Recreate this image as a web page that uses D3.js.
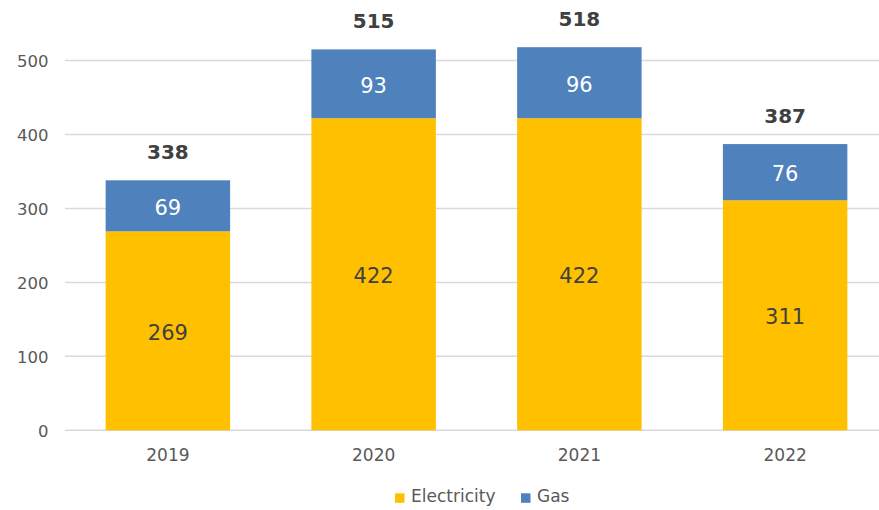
<!DOCTYPE html>
<html><head><meta charset="utf-8">
<script src="https://cdn.jsdelivr.net/npm/d3@7"></script>
<style>
body{margin:0;background:#fff;}
text{font-family:"DejaVu Sans",sans-serif;}
</style></head>
<body><svg id="c" width="879" height="510"></svg>
<script>
const categories = ["2019","2020","2021","2022"];
const electricity = [269,422,422,311];
const gas = [69,93,96,76];
const totals = [338,515,518,387];
const yTicks = [0,100,200,300,400,500];
const seriesNames = ["Electricity","Gas"];
const colors = ["#FFC000","#4F81BD"];
const FONT = "'DejaVu Sans',sans-serif";

const svg = d3.select("#c");
const y = d3.scaleLinear().domain([0,500]).range([430.3,60.5]);
const x = d3.scaleBand().domain(categories).range([65,888]).paddingInner(0.395).paddingOuter(0.1975);

// gridlines
svg.append("g").selectAll("line").data(yTicks).join("line")
  .attr("x1",65).attr("x2",879)
  .attr("y1",d=>y(d)).attr("y2",d=>y(d))
  .attr("stroke","#d9d9d9").attr("stroke-width",1.5);

// y axis labels
const yAxis = d3.axisLeft(y).tickValues(yTicks).tickSize(0).tickPadding(16.5);
const ga = svg.append("g").attr("transform","translate(65,0)").call(yAxis);
ga.select(".domain").remove();
ga.selectAll("text").attr("font-size",16.5).attr("fill","#595959").attr("dy","0.36em").style("font-family",FONT);

// x axis labels
const xAxis = d3.axisBottom(x).tickSize(0);
const gx = svg.append("g").attr("transform","translate(0,430.3)").call(xAxis);
gx.select(".domain").remove();
gx.selectAll("text").attr("font-size",17).attr("fill","#595959").attr("y",30.5).attr("dy",0).style("font-family",FONT);

const data = categories.map((c,i)=>({c, e:electricity[i], g:gas[i], t:totals[i]}));

svg.append("g").selectAll("rect").data(data).join("rect")
  .attr("x",d=>x(d.c)).attr("width",x.bandwidth())
  .attr("y",d=>y(d.e)).attr("height",d=>y(0)-y(d.e)).attr("fill",colors[0]);
svg.append("g").selectAll("rect").data(data).join("rect")
  .attr("x",d=>x(d.c)).attr("width",x.bandwidth())
  .attr("y",d=>y(d.e+d.g)).attr("height",d=>y(d.e)-y(d.e+d.g)).attr("fill",colors[1]);

svg.append("g").selectAll("text").data(data).join("text")
  .attr("x",d=>x(d.c)+x.bandwidth()/2).attr("y",d=>(y(0)+y(d.e))/2)
  .attr("dy","0.42em").attr("text-anchor","middle").attr("font-size",21).attr("fill","#404040")
  .text(d=>d.e);
svg.append("g").selectAll("text").data(data).join("text")
  .attr("x",d=>x(d.c)+x.bandwidth()/2).attr("y",d=>(y(d.e)+y(d.e+d.g))/2)
  .attr("dy","0.42em").attr("text-anchor","middle").attr("font-size",21).attr("fill","#ffffff")
  .text(d=>d.g);
svg.append("g").selectAll("text").data(data).join("text")
  .attr("x",d=>x(d.c)+x.bandwidth()/2).attr("y",d=>y(d.e+d.g)-21)
  .attr("text-anchor","middle").attr("font-size",20).attr("font-weight","bold").attr("fill","#404040")
  .text(d=>d.t);

// legend
const leg = svg.append("g");
const lx = [395,521];
seriesNames.forEach((n,i)=>{
  leg.append("rect").attr("x",lx[i]).attr("y",493.3).attr("width",9.5).attr("height",9.5).attr("fill",colors[i]);
  leg.append("text").attr("x",lx[i]+16).attr("y",502).attr("font-size",17).attr("fill","#595959").text(n);
});
</script></body></html>
